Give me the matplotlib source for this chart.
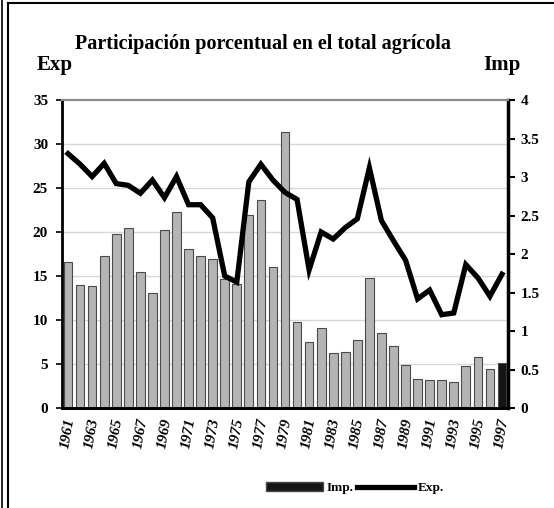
import matplotlib
matplotlib.use("Agg")
import matplotlib.pyplot as plt
from matplotlib.lines import Line2D
from matplotlib.patches import Patch
from matplotlib.transforms import blended_transform_factory
from matplotlib.ticker import FuncFormatter

plt.rcParams['font.family'] = ['Liberation Serif', 'DejaVu Serif']
plt.rcParams['font.weight'] = 'bold'

years = list(range(1961, 1998))
imp = [1.89, 1.60, 1.58, 1.97, 2.26, 2.34, 1.76, 1.50, 2.31, 2.55,
       2.06, 1.97, 1.93, 1.68, 1.61, 2.51, 2.70, 1.83, 3.58, 1.12,
       0.86, 1.04, 0.71, 0.73, 0.88, 1.69, 0.98, 0.80, 0.56, 0.38,
       0.37, 0.37, 0.34, 0.55, 0.66, 0.51, 0.58]
exp_ = [28.9, 27.7, 26.3, 27.8, 25.5, 25.3, 24.4, 25.9, 23.9, 26.3,
        23.1, 23.1, 21.6, 15.0, 14.3, 25.7, 27.7, 25.9, 24.5, 23.7,
        15.7, 20.0, 19.2, 20.5, 21.5, 27.3, 21.3, 19.0, 16.8, 12.4,
        13.4, 10.6, 10.8, 16.3, 14.8, 12.7, 15.2]
left_ticks = [0, 5, 10, 15, 20, 25, 30, 35]
right_ticks = [0, 0.5, 1, 1.5, 2, 2.5, 3, 3.5, 4]
xtick_years = years[::2]

title = "Participación porcentual en el total agrícola"

fig = plt.figure(figsize=(5.54, 5.08), dpi=100)
fig.patch.set_facecolor('white')
ax = fig.add_axes([62/554, 1-408/508, (508-62)/554, (408-100)/508])
ax2 = ax.twinx()
ax.set_zorder(2)
ax.patch.set_visible(False)
ax2.set_zorder(1)

x = list(range(len(years)))
ax.set_xlim(-0.5, len(years)-0.5)
ax.set_ylim(0, 35)
ax2.set_ylim(0, 4)

# gridlines behind the bars, at left-axis ticks
tr = blended_transform_factory(ax2.transAxes, ax.transData)
for v in left_ticks[1:-1]:
    ax2.plot([0, 1], [v, v], transform=tr, color='#d8d8d8', lw=1.0, zorder=0)

colors = ['#b4b4b4'] * len(years)
colors[-1] = '#151515'
ax2.bar(x, imp, width=0.72, color=colors, edgecolor='#4a4a4a', linewidth=0.8, zorder=2)

ax.plot(x, exp_, color='black', lw=3.8, solid_joinstyle='miter', zorder=3)

ax.set_yticks(left_ticks)
ax.set_yticklabels([str(v) for v in left_ticks])
ax2.set_yticks(right_ticks)
ax2.yaxis.set_major_formatter(FuncFormatter(lambda v, p: f"{v:g}"))

ax.set_xticks([years.index(y) for y in xtick_years])
ax.set_xticklabels([str(y) for y in xtick_years], rotation=80, fontsize=11,
                   fontweight='bold', fontstyle='italic')
ax.tick_params(axis='x', length=0, pad=7)
ax.tick_params(axis='y', direction='out', length=4, width=1.2, labelsize=11, pad=6)
ax2.tick_params(axis='y', direction='out', length=5, width=1.5, labelsize=11, pad=4)
for t in ax.get_yticklabels() + ax2.get_yticklabels():
    t.set_fontweight('bold')

for a in (ax, ax2):
    a.spines['left'].set_linewidth(2)
    a.spines['bottom'].set_linewidth(2)
    a.spines['right'].set_linewidth(2.5)
    a.spines['top'].set_color('#8a8a8a')
    a.spines['top'].set_linewidth(1.5)
ax2.spines['left'].set_visible(False)
ax.spines['right'].set_visible(False)

fig.text(263/554, 1-44/508, title, ha='center', va='center', fontsize=14.5, fontweight='bold')
fig.text(37/554, 1-65/508, 'Exp', ha='left', va='center', fontsize=15, fontweight='bold')
fig.text(521/554, 1-65/508, 'Imp', ha='right', va='center', fontsize=15, fontweight='bold')

handles = [Patch(facecolor='#151515', edgecolor='#4a4a4a'),
           Line2D([0], [0], color='black', lw=3.8)]
fig.legend(handles, ['Imp.', 'Exp.'], loc='center', bbox_to_anchor=(355/554, 1-488/508),
           ncol=2, frameon=False, handlelength=4.3, handleheight=0.6, columnspacing=0.3,
           handletextpad=0.25, prop={'family': 'Liberation Serif', 'weight': 'bold', 'size': 9.5})

# outer frame lines
fig.add_artist(Line2D([2/554, 2/554], [0, 1], transform=fig.transFigure, color='black', lw=1.2))
fig.add_artist(Line2D([7.5/554, 7.5/554], [0, 1-3/508], transform=fig.transFigure, color='black', lw=1.5))
fig.add_artist(Line2D([7.5/554, 1], [1-3/508, 1-3/508], transform=fig.transFigure, color='black', lw=1.5))

fig.savefig('out.png', dpi=100, facecolor='white')
